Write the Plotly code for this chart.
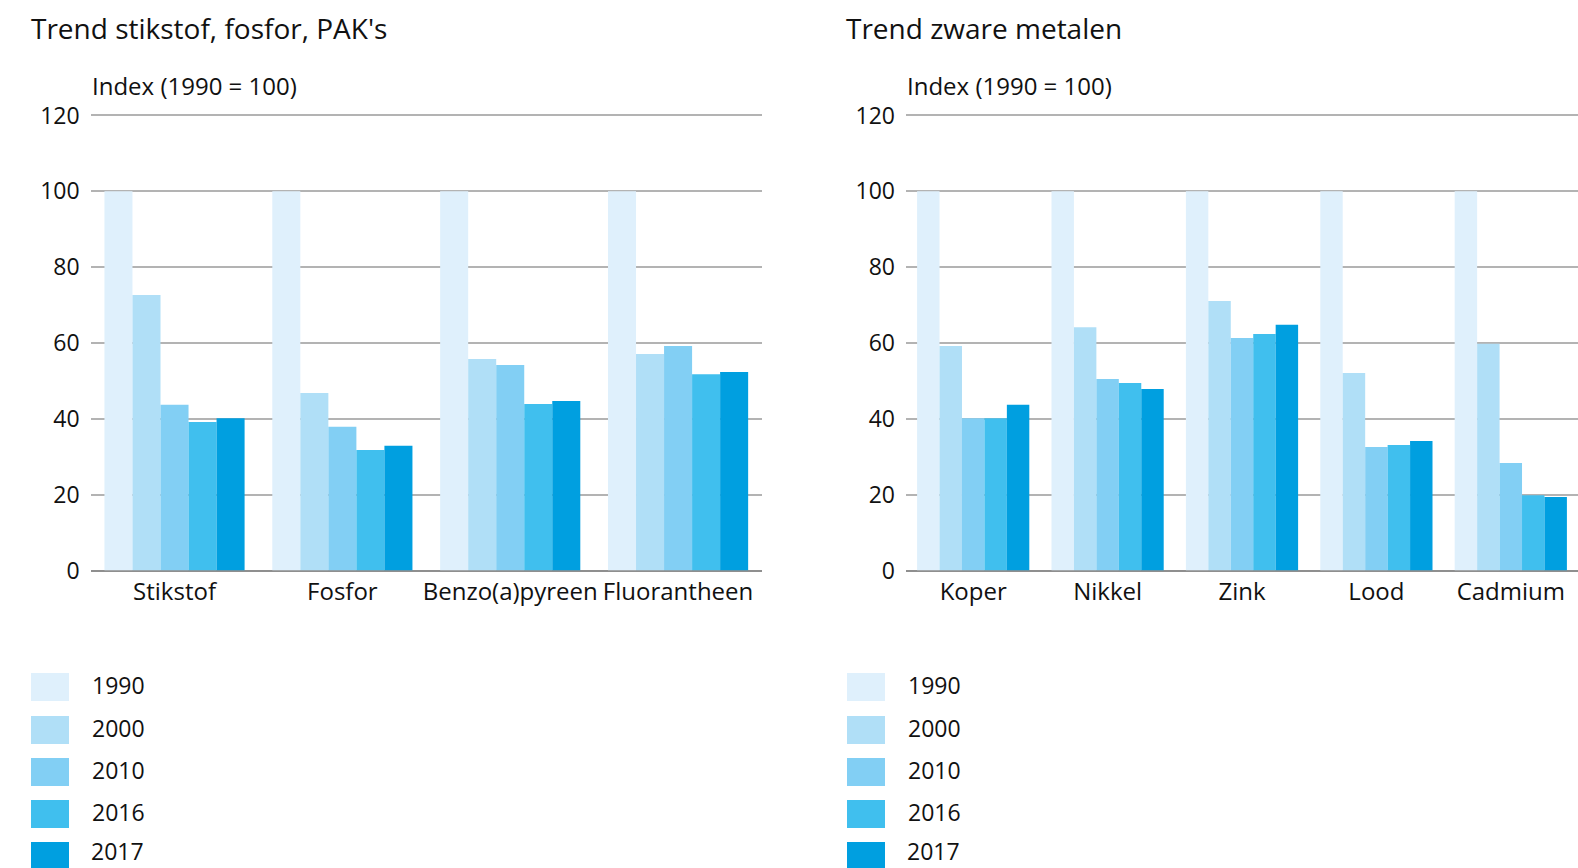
import plotly.graph_objects as go

W, H = 1578, 868

years = ["1990", "2000", "2010", "2016", "2017"]
colors = ["#dff0fc", "#b0dff7", "#82cff4", "#40bfee", "#009fe0"]

cats_left = ["Stikstof", "Fosfor", "Benzo(a)pyreen", "Fluorantheen"]
left_1990 = [100, 100, 100, 100]
left_2000 = [72.7, 46.8, 55.8, 57.1]
left_2010 = [43.7, 37.9, 54.2, 59.2]
left_2016 = [39.2, 31.8, 43.9, 51.8]
left_2017 = [40.2, 32.9, 44.7, 52.4]

cats_right = ["Koper", "Nikkel", "Zink", "Lood", "Cadmium"]
right_1990 = [100, 100, 100, 100, 100]
right_2000 = [59.2, 64.2, 71.1, 52.1, 59.8]
right_2010 = [40.2, 50.5, 61.3, 32.6, 28.4]
right_2016 = [40.2, 49.5, 62.4, 33.1, 19.9]
right_2017 = [43.7, 47.9, 64.8, 34.2, 19.4]

title_left = "Trend stikstof, fosfor, PAK's"
title_right = "Trend zware metalen"
y_title = "Index (1990 = 100)"
y_ticks = [0, 20, 40, 60, 80, 100, 120]

FONT = "Open Sans"
TXT = "#111111"
left_series = [left_1990, left_2000, left_2010, left_2016, left_2017]
right_series = [right_1990, right_2000, right_2010, right_2016, right_2017]

fig = go.Figure()
for yr, col, vals in zip(years, colors, left_series):
    fig.add_trace(go.Bar(x=cats_left, y=vals, name=yr, marker=dict(color=col, line=dict(width=0)),
                         xaxis="x", yaxis="y", showlegend=False, offsetgroup=yr))
for yr, col, vals in zip(years, colors, right_series):
    fig.add_trace(go.Bar(x=cats_right, y=vals, name=yr, marker=dict(color=col, line=dict(width=0)),
                         xaxis="x2", yaxis="y2", showlegend=False, offsetgroup=yr))

def px_x(p):
    return p / W

def px_y(p):
    return 1 - p / H

y0_px = 570.6
unit = 3.7925
ymax = 120.8
ydom = [px_y(y0_px), px_y(y0_px - ymax * unit)]

yaxis_common = dict(
    range=[0, ymax], tickvals=y_ticks, showgrid=True, gridcolor="#b3b3b3", gridwidth=2,
    zeroline=True, zerolinecolor="#8f8f8f", zerolinewidth=2, showline=False,
    tickfont=dict(family=FONT, size=23, color=TXT), ticks="", ticklabelstandoff=10,
    domain=ydom, fixedrange=True, automargin=False,
)
xaxis_common = dict(
    showgrid=False, zeroline=False, showline=False, ticks="", ticklabelstandoff=4,
    tickfont=dict(family=FONT, size=24, color=TXT), fixedrange=True, automargin=False,
)

fig.update_layout(
    width=W, height=H, margin=dict(l=0, r=0, t=0, b=0, pad=0, autoexpand=False),
    paper_bgcolor="white", plot_bgcolor="white",
    barmode="group", bargap=0.165, bargroupgap=0,
    font=dict(family=FONT, size=23, color=TXT),
    showlegend=False,
    xaxis=dict(domain=[px_x(90.6), px_x(762)], anchor="y", **xaxis_common),
    yaxis=dict(anchor="x", **yaxis_common),
    xaxis2=dict(domain=[px_x(906), 1.0], anchor="y2", **xaxis_common),
    yaxis2=dict(anchor="x2", **yaxis_common),
)

annotations = [
    dict(text=title_left, x=px_x(29), y=px_y(28), xanchor="left", yanchor="middle",
         font=dict(size=28, family=FONT, color=TXT)),
    dict(text=title_right, x=px_x(844), y=px_y(28), xanchor="left", yanchor="middle",
         font=dict(size=28, family=FONT, color=TXT)),
    dict(text=y_title, x=px_x(89.5), y=px_y(85.5), xanchor="left", yanchor="middle",
         font=dict(size=24, family=FONT, color=TXT)),
    dict(text=y_title, x=px_x(905), y=px_y(85.5), xanchor="left", yanchor="middle",
         font=dict(size=24, family=FONT, color=TXT)),
]
shapes = []
row_y = [687, 730, 772, 814, 856]
for lx in (31, 847):
    for i, (yr, col, ry) in enumerate(zip(years, colors, row_y)):
        shapes.append(dict(type="rect", xref="paper", yref="paper",
                           x0=px_x(lx), x1=px_x(lx + 38), y0=px_y(ry + 14), y1=px_y(ry - 14),
                           fillcolor=col, line=dict(width=0)))
        if i == len(years) - 1:
            annotations.append(dict(text=yr, x=px_x(lx + 59), y=px_y(867.5), xanchor="left",
                                    yanchor="bottom", borderpad=0,
                                    font=dict(size=23, family=FONT, color=TXT)))
        else:
            annotations.append(dict(text=yr, x=px_x(lx + 59), y=px_y(ry - 2), xanchor="left",
                                    yanchor="middle", font=dict(size=23, family=FONT, color=TXT)))
for a in annotations:
    a.update(xref="paper", yref="paper", showarrow=False)
fig.update_layout(annotations=annotations, shapes=shapes)

fig.write_html(
    "out.html",
    config={"displayModeBar": False},
    post_script="document.body.style.margin='0';document.body.style.overflow='hidden';"
                "document.documentElement.style.overflow='hidden';",
)
